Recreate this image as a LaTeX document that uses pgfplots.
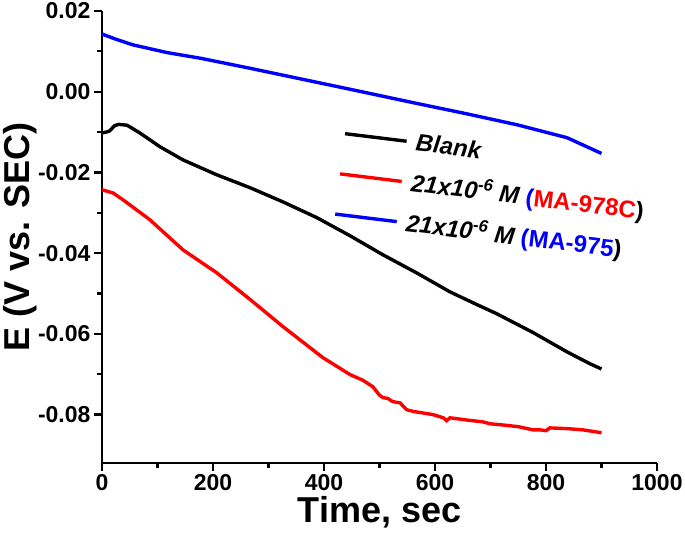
\documentclass[border=0pt]{standalone}
\usepackage{pgfplots}
\pgfplotsset{compat=1.18}
\usepackage{fontspec}
\setmainfont{Liberation Sans}
\begin{document}
\begin{tikzpicture}
\begin{axis}[
  name=ax,
  scale only axis,
  width=555pt, height=452pt,
  xmin=0, xmax=1000, ymin=-0.092, ymax=0.02,
  axis lines=left,
  axis line style={-, line width=2.2pt},
  xtick={0,200,400,600,800,1000},
  ytick={-0.08,-0.06,-0.04,-0.02,0,0.02},
  minor x tick num=1, minor y tick num=1,
  tick align=outside,
  major tick length=8pt, minor tick length=5pt,
  every tick/.style={black, line width=2.2pt},
  /pgf/number format/assume math mode=true,
  xticklabel style={/pgf/number format/1000 sep={}},
  yticklabel style={/pgf/number format/fixed, /pgf/number format/precision=2, /pgf/number format/fixed zerofill},
  ticklabel style={font=\fontsize{23}{27}\selectfont\bfseries},
  scaled y ticks=false,
  xlabel={Time, sec},
  ylabel={E (V vs. SEC)},
  label style={font=\fontsize{36}{40}\selectfont\bfseries},
  xlabel style={yshift=1pt},
  ylabel style={yshift=-6pt},
]
\addplot[black, line width=3.4pt] coordinates {
(0,-0.0102) (8,-0.0100) (14,-0.0097) (20,-0.0088) (23,-0.0084) (30,-0.0081)
(38,-0.0082) (45,-0.0083) (50,-0.0087) (68,-0.0102) (104,-0.0136) (146,-0.0169)
(207,-0.0206) (267,-0.0238) (326,-0.0273) (387,-0.0312) (447,-0.0357) (506,-0.0404)
(567,-0.0449) (627,-0.0496) (670,-0.0524) (711,-0.0550) (777,-0.0597) (837,-0.0644) (879,-0.0674)
(900,-0.0687)};
\addplot[red, line width=3.4pt] coordinates {
(0,-0.0243) (20,-0.0251) (38,-0.0268) (86,-0.0317) (146,-0.0392) (207,-0.0449)
(267,-0.0515) (326,-0.0582) (398,-0.0659) (447,-0.0701) (470,-0.0715) (488,-0.0731)
(500,-0.0752) (506,-0.0758) (515,-0.0760) (524,-0.0768) (537,-0.0771) (549,-0.0788)
(560,-0.0792) (596,-0.0800) (615,-0.0808) (621,-0.0815) (627,-0.0808) (660,-0.0814)
(686,-0.0818) (700,-0.0823) (717,-0.0825) (750,-0.0830) (777,-0.0838) (790,-0.0838)
(800,-0.0840) (807,-0.0833) (840,-0.0835) (867,-0.0838) (900,-0.0845)};
\addplot[blue, line width=3.4pt] coordinates {
(0,0.0143) (25,0.0130) (56,0.0116) (117,0.0097) (177,0.0083) (267,0.0058)
(357,0.0032) (447,0.0006) (567,-0.0029) (658,-0.0055) (748,-0.0082) (838,-0.0114)
(900,-0.0153)};
\coordinate (L) at (axis cs:438,-0.0104);
\end{axis}
\begin{scope}[shift={(L)}, rotate=-7, line width=3.4pt,
  every node/.style={anchor=base west, inner sep=0pt, transform shape,
    font=\fontsize{24}{28}\selectfont\bfseries\itshape}]
  \draw[black] (0pt,0pt) -- (62pt,0pt);
  \node at (70pt,-8.5pt) {Blank};
  \draw[red] (0pt,-40.5pt) -- (62pt,-40.5pt);
  \node at (70pt,-49pt) {21x10\textsuperscript{-6} M {\upshape\color{blue}(}{\upshape\color{red}MA-978C}{\upshape)}};
  \draw[blue] (0pt,-81pt) -- (62pt,-81pt);
  \node at (70pt,-89.5pt) {21x10\textsuperscript{-6} M {\upshape\color{blue}(MA-975}{\upshape)}};
\end{scope}
\pgfresetboundingbox
\path ([shift={(-102pt,-72pt)}]ax.south west) rectangle ([shift={(28pt,11pt)}]ax.north east);
\end{tikzpicture}
\end{document}
